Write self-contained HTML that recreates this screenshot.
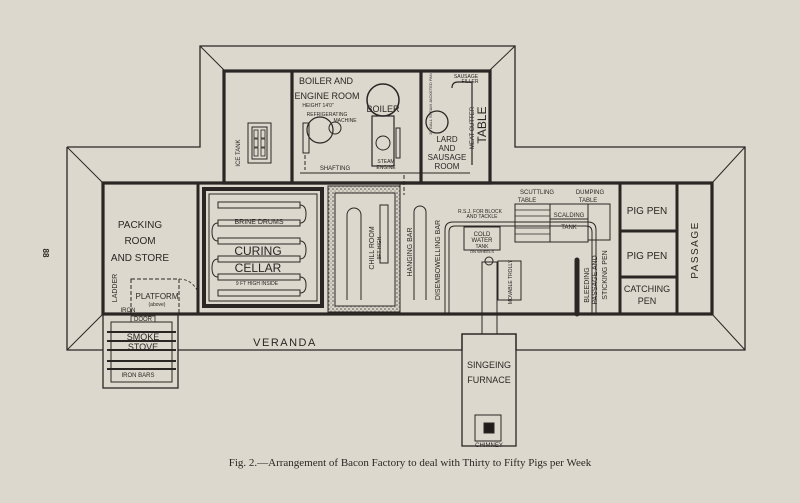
<!DOCTYPE html>
<html><head><meta charset="utf-8"><style>
html,body{margin:0;padding:0;background:#ddd8cd;}
svg{display:block}
text{font-family:"Liberation Sans",sans-serif;fill:#2a2624}
</style></head><body>
<svg width="800" height="503" viewBox="0 0 800 503" xmlns="http://www.w3.org/2000/svg">
<rect width="800" height="503" fill="#ddd8cd"/>
<defs>
<pattern id="dots" width="4" height="4" patternUnits="userSpaceOnUse"><rect width="4" height="4" fill="#d8d3c7"/><circle cx="1" cy="1" r="0.8" fill="#555"/><circle cx="3" cy="3" r="0.6" fill="#777"/></pattern>
</defs>
<g stroke="#2a2624" fill="none">
<polyline stroke-width="1.3" points="67,147 200,147 200,46 515,46 515,147 745,147 745,350 516,350 516,334 462,334 462,350 178,350"/>
<polyline stroke-width="1.3" points="103,350 67,350 67,147"/>
<line x1="67" y1="147" x2="103" y2="183" stroke-width="1"/>
<line x1="67" y1="350" x2="103" y2="314" stroke-width="1"/>
<line x1="200" y1="46" x2="224" y2="70" stroke-width="1"/>
<line x1="515" y1="46" x2="490" y2="70" stroke-width="1"/>
<line x1="745" y1="147" x2="712" y2="183" stroke-width="1"/>
<line x1="745" y1="350" x2="712" y2="314" stroke-width="1"/>
<rect x="103" y="314" width="75" height="74" stroke-width="1.3"/>
<rect x="111" y="322" width="61" height="60" stroke-width="1"/>
<g stroke-width="2"><line x1="107" y1="332" x2="176" y2="332"/><line x1="107" y1="341" x2="176" y2="341"/><line x1="107" y1="350" x2="176" y2="350"/><line x1="107" y1="361" x2="176" y2="361"/><line x1="107" y1="369" x2="176" y2="369"/></g>
<rect x="131" y="316" width="24" height="6" stroke-width="0.8"/>
<rect x="462" y="334" width="54" height="112" stroke-width="1.3"/>
<rect x="475" y="415" width="26" height="26" stroke-width="1"/>
<rect x="484" y="423" width="10" height="10" fill="#1f1c1a"/>
<rect x="482" y="262" width="15" height="72" stroke-width="1"/>
<circle cx="489" cy="261" r="4" stroke-width="1"/>
<rect x="224" y="71" width="266" height="112" stroke-width="3.2"/>
<line x1="292" y1="71" x2="292" y2="183" stroke-width="3.2"/>
<line x1="421" y1="71" x2="421" y2="183" stroke-width="3.2"/>
<rect x="103" y="183" width="609" height="131" stroke-width="3.2"/>
<line x1="198" y1="183" x2="198" y2="314" stroke-width="3"/>
<line x1="620" y1="183" x2="620" y2="314" stroke-width="3"/>
<line x1="677" y1="183" x2="677" y2="314" stroke-width="3"/>
<line x1="620" y1="231" x2="677" y2="231" stroke-width="3"/>
<line x1="620" y1="277" x2="677" y2="277" stroke-width="3"/>
<!-- ice tank -->
<rect x="248" y="123" width="23" height="40" stroke-width="1"/>
<rect x="252" y="127" width="15" height="32" stroke-width="1"/>
<g stroke-width="0.8"><rect x="254" y="130" width="4" height="8"/><rect x="261" y="130" width="4" height="8"/><rect x="254" y="139" width="4" height="8"/><rect x="261" y="139" width="4" height="8"/><rect x="254" y="148" width="4" height="8"/><rect x="261" y="148" width="4" height="8"/></g>
<rect x="204" y="189" width="118" height="117" stroke-width="4"/>
<rect x="209" y="194" width="108" height="107" stroke-width="1"/>
<g stroke-width="1">
<rect x="218" y="202" width="82" height="6"/><rect x="218" y="220" width="82" height="6"/>
<rect x="218" y="238" width="82" height="6"/><rect x="218" y="256" width="82" height="6"/>
<rect x="218" y="274" width="82" height="6"/><rect x="218" y="290" width="82" height="6"/>
<path d="M300,205 q6,0 6,9 q0,9 -6,9"/><path d="M218,223 q-6,0 -6,9 q0,9 6,9"/>
<path d="M300,241 q6,0 6,9 q0,9 -6,9"/><path d="M218,259 q-6,0 -6,9 q0,9 6,9"/>
<path d="M300,277 q6,0 6,8 q0,8 -6,8"/>
</g>
<rect x="328" y="186" width="72" height="126" fill="url(#dots)" stroke-width="1"/>
<rect x="335" y="193" width="60" height="113" fill="#ddd8cd" stroke-width="1"/>
<path d="M347,300 V215 a7,7 0 0 1 14,0 V300" stroke-width="1"/>
<rect x="380" y="205" width="8" height="58" stroke-width="1"/>
<path d="M414,300 V212 a6,6 0 0 1 12,0 V300" stroke-width="1"/>
<line x1="400" y1="183" x2="400" y2="314" stroke-width="1"/>
<path d="M445,314 V230 q0,-8 8,-8 H588 q8,0 8,8 V314" stroke-width="1"/>
<path d="M449,314 V232 q0,-6 6,-6 H586 q6,0 6,6 V314" stroke-width="1"/>
<rect x="515" y="204" width="35" height="38" stroke-width="1"/>
<g stroke-width="0.8"><line x1="515" y1="210" x2="550" y2="210"/><line x1="515" y1="216" x2="550" y2="216"/><line x1="515" y1="222" x2="550" y2="222"/><line x1="515" y1="228" x2="550" y2="228"/><line x1="515" y1="234" x2="550" y2="234"/></g>
<rect x="550" y="204" width="38" height="38" stroke-width="1"/>
<line x1="550" y1="219" x2="588" y2="219" stroke-width="1"/>
<rect x="588" y="204" width="22" height="36" stroke-width="1"/>
<rect x="464" y="227" width="36" height="23" stroke-width="1"/>
<rect x="498" y="261" width="23" height="39" stroke-width="1"/>
<line x1="577" y1="260" x2="577" y2="314" stroke-width="5" stroke-linecap="round"/>
<rect x="250" y="125" width="0" height="0"/>
<rect x="303" y="123" width="6" height="30" stroke-width="1"/>
<circle cx="383" cy="100" r="16" stroke-width="1.5"/>
<circle cx="320" cy="130" r="13" stroke-width="1.2"/>
<circle cx="335" cy="128" r="6" stroke-width="1"/>
<rect x="372" y="116" width="22" height="50" stroke-width="1.2"/>
<circle cx="383" cy="143" r="7" stroke-width="1"/>
<rect x="396" y="128" width="4" height="30" stroke-width="1"/>
<line x1="300" y1="173" x2="470" y2="173" stroke-width="1"/>
<circle cx="437" cy="122" r="11" stroke-width="1.3"/>
<path d="M452,88 q0,-6 6,-6 H472 V165" stroke-width="1.2"/>
<rect x="131" y="279" width="48" height="35" stroke-width="1" stroke-dasharray="4,2"/>
<line x1="305" y1="155" x2="305" y2="170" stroke-width="1" stroke-dasharray="4,2"/>
<line x1="404" y1="175" x2="404" y2="195" stroke-width="1" stroke-dasharray="4,2"/>
<path d="M179,279 a20,20 0 0 1 20,18" stroke-width="0.8" stroke-dasharray="3,2"/>
</g>
<g font-size="10" text-anchor="middle">
<text x="140" y="228">PACKING</text><text x="140" y="244">ROOM</text><text x="140" y="261">AND STORE</text>
<text x="157" y="299" font-size="8">PLATFORM</text><text x="157" y="306" font-size="5">(above)</text>
<text x="128" y="312" font-size="6">IRON</text><text x="143" y="321" font-size="6">DOOR</text>
<text x="143" y="340" font-size="9">SMOKE</text><text x="143" y="350" font-size="9">STOVE</text>
<text x="138" y="377" font-size="6">IRON BARS</text>
<text x="285" y="346" font-size="11" letter-spacing="1.5">VERANDA</text>
<text x="259" y="224" font-size="7">BRINE DRUMS</text>
<text x="258" y="255" font-size="12">CURING</text><text x="258" y="272" font-size="12">CELLAR</text>
<text x="257" y="285" font-size="5">9 FT HIGH INSIDE</text>
<text x="326" y="84" font-size="9">BOILER AND</text><text x="327" y="99" font-size="9">ENGINE ROOM</text>
<text x="318" y="107" font-size="5">HEIGHT 14'0"</text>
<text x="327" y="116" font-size="5">REFRIGERATING</text><text x="345" y="122" font-size="5">MACHINE</text>
<text x="383" y="112" font-size="9">BOILER</text>
<text x="335" y="170" font-size="6">SHAFTING</text>
<text x="386" y="163" font-size="5">STEAM</text><text x="386" y="169" font-size="5">ENGINE</text>
<text x="447" y="142" font-size="8">LARD</text><text x="447" y="151" font-size="8">AND</text><text x="447" y="160" font-size="8">SAUSAGE</text><text x="447" y="169" font-size="8">ROOM</text>
<text x="466" y="78" font-size="5">SAUSAGE</text><text x="470" y="83" font-size="5">FILLER</text>
<text x="537" y="194" font-size="6">SCUTTLING</text><text x="527" y="202" font-size="6">TABLE</text>
<text x="590" y="194" font-size="6">DUMPING</text><text x="588" y="202" font-size="6">TABLE</text>
<text x="480" y="213" font-size="5">R.S.J. FOR BLOCK</text><text x="482" y="218" font-size="5">AND TACKLE</text>
<text x="569" y="217" font-size="6">SCALDING</text><text x="569" y="229" font-size="6">TANK</text>
<text x="482" y="236" font-size="6">COLD</text><text x="482" y="242" font-size="6">WATER</text><text x="482" y="248" font-size="5">TANK</text><text x="482" y="253" font-size="4">ON WHEELS</text>
<text x="647" y="214" font-size="10">PIG PEN</text><text x="647" y="259" font-size="10">PIG PEN</text>
<text x="647" y="292" font-size="9">CATCHING</text><text x="647" y="304" font-size="9">PEN</text>
<text x="489" y="368" font-size="9">SINGEING</text><text x="489" y="383" font-size="9">FURNACE</text>
<text x="489" y="447" font-size="6">CHIMNEY</text>
</g>
<g font-size="7" text-anchor="middle">
<text transform="translate(240,153) rotate(-90)" font-size="6">ICE TANK</text>
<text transform="translate(374,248) rotate(-90)">CHILL ROOM</text>
<text transform="translate(381,248) rotate(-90)" font-size="5">9FT HIGH</text>
<text transform="translate(412,252) rotate(-90)">HANGING BAR</text>
<text transform="translate(440,260) rotate(-90)">DISEMBOWELLING BAR</text>
<text transform="translate(512,282) rotate(-90)" font-size="5">MOVABLE TROLLY</text>
<text transform="translate(589,285) rotate(-90)">BLEEDING</text>
<text transform="translate(597,280) rotate(-90)">PASSAGE AND</text>
<text transform="translate(607,275) rotate(-90)">STICKING PEN</text>
<text transform="translate(698,250) rotate(-90)" font-size="10" letter-spacing="1.5">PASSAGE</text>
<text transform="translate(486,125) rotate(-90)" font-size="12">TABLE</text>
<text transform="translate(474,128) rotate(-90)" font-size="6">MEAT CUTTER</text>
<text transform="translate(432,104) rotate(-90)" font-size="4">20 GALL STEAM JACKETED PAN</text>
<text transform="translate(117,288) rotate(-90)" font-size="7">LADDER</text>
<text transform="translate(43,253) rotate(90)" font-size="8" font-weight="bold">88</text>
</g>
<text x="410" y="466" text-anchor="middle" font-size="11" style="font-family:'Liberation Serif',serif">Fig. 2.—Arrangement of Bacon Factory to deal with Thirty to Fifty Pigs per Week</text>
</svg>
</body></html>
